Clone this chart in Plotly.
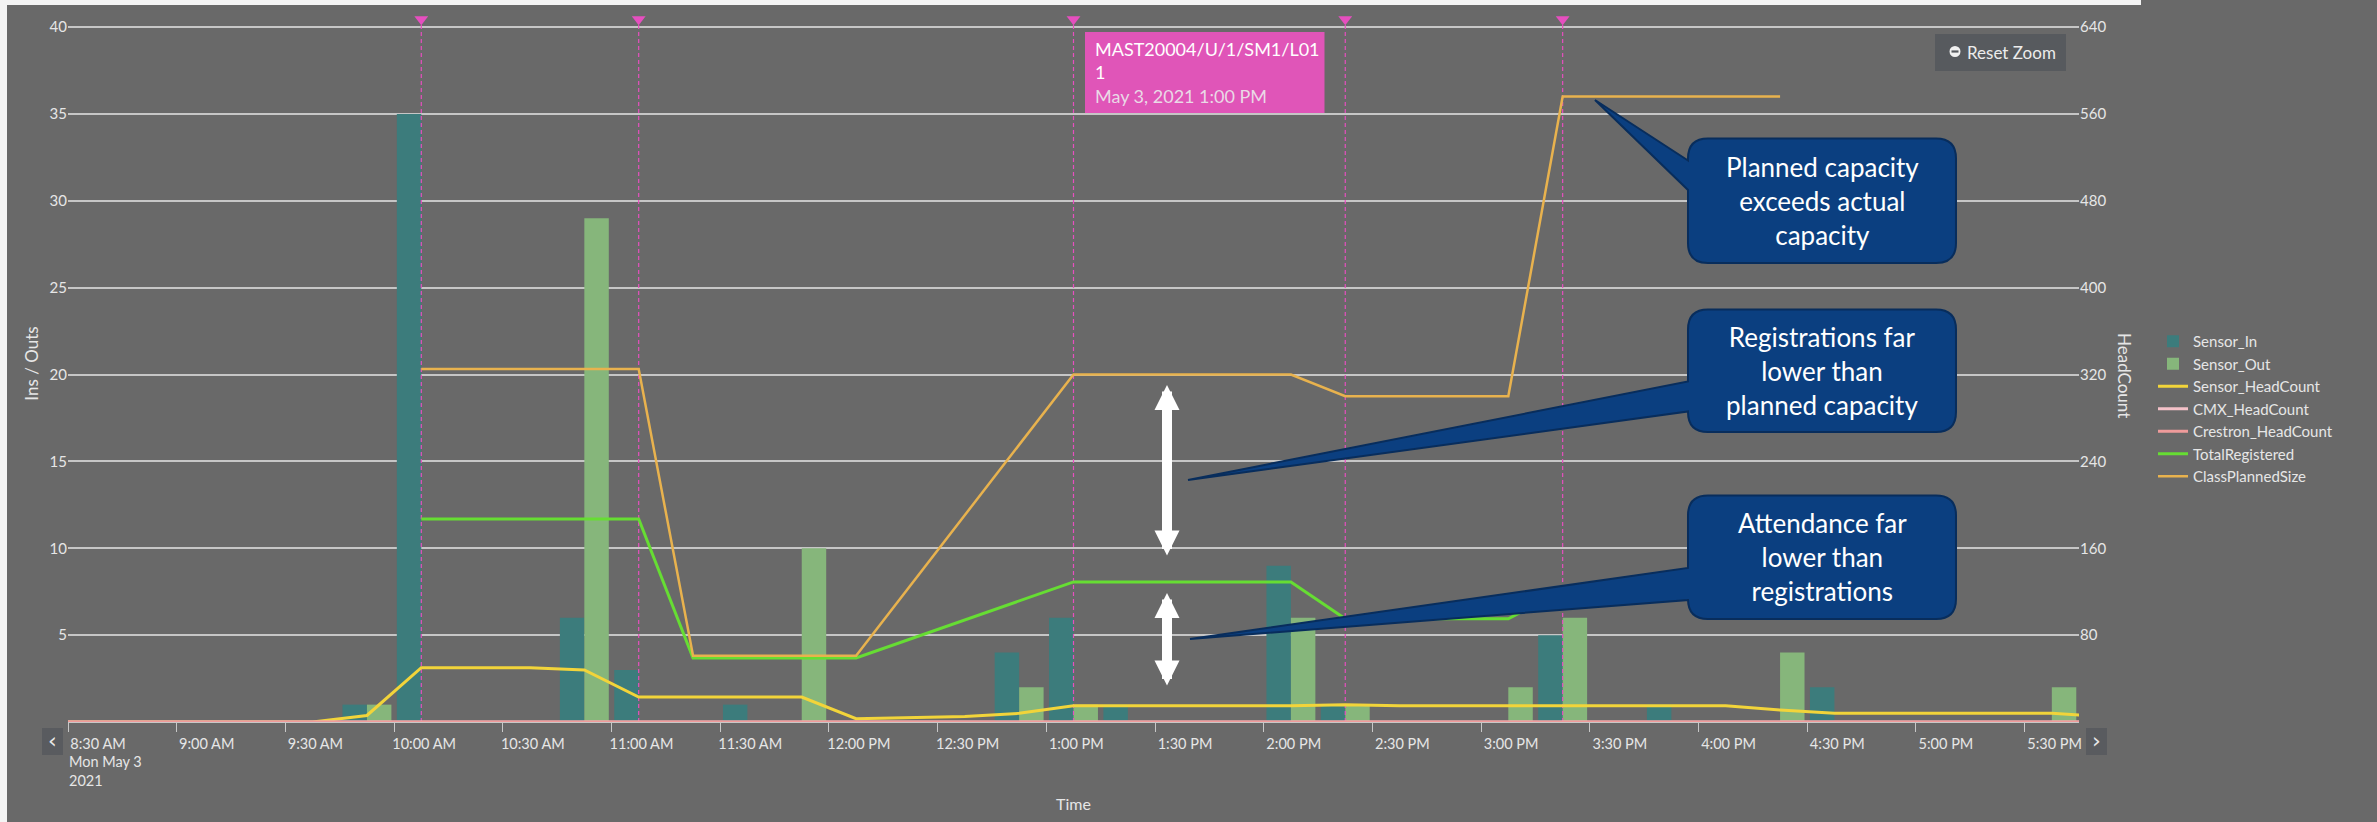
import plotly.graph_objects as go

DAY = "2021-05-03 "

# ---------------- data ----------------
SLOTS = ["08:15", "08:30", "08:45", "09:00", "09:15", "09:30", "09:45",
         "10:00", "10:15", "10:30", "10:45", "11:00", "11:15", "11:30", "11:45",
         "12:00", "12:15", "12:30", "12:45", "13:00", "13:15", "13:30", "13:45",
         "14:00", "14:15", "14:30", "14:45", "15:00", "15:15", "15:30", "15:45",
         "16:00", "16:15", "16:30", "16:45", "17:00", "17:15", "17:30", "17:45"]

SENSOR_IN = [0, 0, 0, 0, 0, 0, 1,
             35, 0, 0, 6, 3, 0, 1, 0,
             0, 0, 0, 4, 6, 1, 0, 0,
             9, 1, 0, 0, 0, 5, 0, 1,
             0, 0, 2, 0, 0, 0, 0, 0]

SENSOR_OUT = [0, 0, 0, 0, 0, 0, 1,
              0, 0, 0, 29, 0, 0, 0, 10,
              0, 0, 0, 2, 1, 0, 0, 0,
              6, 1, 0, 0, 2, 6, 0, 0,
              0, 4, 0, 0, 0, 0, 2, 0]

SENSOR_HEADCOUNT = [0, 0, 0, 0, 0, 0, 6,
                    50, 50, 50, 48, 23, 23, 23, 23,
                    3, 4, 5, 8, 15, 15, 15, 15,
                    15, 16, 15, 15, 15, 15, 15, 15,
                    15, 11, 8, 8, 8, 8, 8, 5]

CMX_HEADCOUNT = [0, 0, 0, 0, 0, 0, 0,
                 0, 0, 0, 0, 0, 0, 0, 0,
                 0, 0, 0, 0, 0, 0, 0, 0,
                 0, 0, 0, 0, 0, 0, 0, 0,
                 0, 0, 0, 0, 0, 0, 0, 0]

CRESTRON_HEADCOUNT = [0, 0, 0, 0, 0, 0, 0,
                      0, 0, 0, 0, 0, 0, 0, 0,
                      0, 0, 0, 0, 0, 0, 0, 0,
                      0, 0, 0, 0, 0, 0, 0, 0,
                      0, 0, 0, 0, 0, 0, 0, 0]

TOTAL_REGISTERED = [None, None, None, None, None, None, None,
                    187, 187, 187, 187, 187, 59, 59, 59,
                    59, None, None, None, 129, 129, 129, 129,
                    129, 95, 95, 95, 95, 121, 121, 121,
                    121, 121, None, None, None, None, None, None]

CLASS_PLANNED_SIZE = [None, None, None, None, None, None, None,
                      325, 325, 325, 325, 325, 61, 61, 61,
                      61, None, None, None, 320, 320, 320, 320,
                      320, 300, 300, 300, 300, 576, 576, 576,
                      576, 576, None, None, None, None, None, None]

FLAG_TIMES = ["10:00", "11:00", "13:00", "14:15", "15:15"]

TICK_TIMES = ["08:30", "09:00", "09:30", "10:00", "10:30", "11:00", "11:30",
              "12:00", "12:30", "13:00", "13:30", "14:00", "14:30", "15:00",
              "15:30", "16:00", "16:30", "17:00", "17:30"]
TICK_TEXT = ["8:30 AM", "9:00 AM", "9:30 AM", "10:00 AM",
             "10:30 AM", "11:00 AM", "11:30 AM", "12:00 PM", "12:30 PM", "1:00 PM",
             "1:30 PM", "2:00 PM", "2:30 PM", "3:00 PM", "3:30 PM", "4:00 PM",
             "4:30 PM", "5:00 PM", "5:30 PM"]
FIRST_TICK_DATE = "Mon May 3<br>2021"

LEFT_TICKS = [5, 10, 15, 20, 25, 30, 35, 40]
RIGHT_TICKS = [80, 160, 240, 320, 400, 480, 560, 640]

TOOLTIP_LINES = ["MAST20004/U/1/SM1/L01", "1", "May 3, 2021 1:00 PM"]
CALLOUT_TEXTS = ["Planned capacity<br>exceeds actual<br>capacity",
                 "Registrations far<br>lower than<br>planned capacity",
                 "Attendance far<br>lower than<br>registrations"]

# ---------------- layout geometry ----------------
W, H = 2377, 822
ML, MR, MT, MB = 68, 298, 5, 100
PW = W - ML - MR
PH = H - MT - MB
UNIT = 695 / 40.0                 # pixels per left-axis unit (40 gridline sits at y=27)
YTOP = PH / UNIT                  # left-axis value at top of plot area
FONT = "Lato, 'Open Sans', sans-serif"
BG = "#696969"
TXT = "#e6e6e6"
PERIOD = 15 * 60 * 1000


def px(x):
    return (x - ML) / PW


def py(y):
    return (H - MB - y) / PH


xs = [DAY + s for s in SLOTS]
flag_x = [DAY + s for s in FLAG_TIMES]

fig = go.Figure()

common = dict(xperiod=PERIOD, xperiodalignment="middle")

fig.add_trace(go.Bar(x=xs, y=SENSOR_IN, name="Sensor_In", marker=dict(color="#3c7c7c", line=dict(width=0)),
                     yaxis="y", **common))
fig.add_trace(go.Bar(x=xs, y=SENSOR_OUT, name="Sensor_Out", marker=dict(color="#86b67b", line=dict(width=0)),
                     yaxis="y", **common))

# flags (dashed verticals + triangles)
fx, fy = [], []
for t in flag_x:
    fx += [t, t, None]
    fy += [0, 40.25, None]
fig.add_trace(go.Scatter(x=fx, y=fy, mode="lines", line=dict(color="#e64fbf", width=1.2, dash="4px,3px"),
                         showlegend=False, hoverinfo="skip", yaxis="y", **common))
fig.add_trace(go.Scatter(x=flag_x, y=[40.45] * len(flag_x), mode="markers",
                         marker=dict(symbol="triangle-down", size=12, color="#e64fbf", line=dict(width=0)),
                         showlegend=False, yaxis="y", **common))

line_specs = [
    ("Sensor_HeadCount", SENSOR_HEADCOUNT, "#f2d43a", 3),
    ("CMX_HeadCount", CMX_HEADCOUNT, "#f4c2c9", 3),
    ("Crestron_HeadCount", CRESTRON_HEADCOUNT, "#ef9b9b", 3),
    ("TotalRegistered", TOTAL_REGISTERED, "#66dd33", 3),
    ("ClassPlannedSize", CLASS_PLANNED_SIZE, "#e8b24e", 2.5),
]
for name, vals, col, wdt in line_specs:
    fig.add_trace(go.Scatter(x=xs, y=vals, name=name, mode="lines", line=dict(color=col, width=wdt),
                             connectgaps=True, yaxis="y2", **common))

shapes = []
annotations = []

# callouts
CALLOUTS = [
    # box L, T, R, B, attach1, attach2, tip x, tip y
    (1688, 138.5, 1956, 263, 160.5, 190, 1595, 100),
    (1688, 309.5, 1956, 432, 381.5, 411.5, 1188, 480),
    (1688, 495.5, 1956, 619, 568, 600, 1190, 639),
]
R = 20


def P(x, y):
    return f"{px(x):.6f},{py(y):.6f}"


for (L, T, Rr, B, a1, a2, tx, ty), txt in zip(CALLOUTS, CALLOUT_TEXTS):
    path = (f"M{P(L + R, T)} L{P(Rr - R, T)} Q{P(Rr, T)} {P(Rr, T + R)} "
            f"L{P(Rr, B - R)} Q{P(Rr, B)} {P(Rr - R, B)} L{P(L + R, B)} "
            f"Q{P(L, B)} {P(L, B - R)} L{P(L, a2)} L{P(tx, ty)} L{P(L, a1)} "
            f"L{P(L, T + R)} Q{P(L, T)} {P(L + R, T)} Z")
    shapes.append(dict(type="path", xref="paper", yref="paper", path=path,
                       fillcolor="#0b3f80", line=dict(color="#082d5c", width=2), layer="above"))
    annotations.append(dict(xref="paper", yref="paper", x=px((L + Rr) / 2), y=py((T + B) / 2),
                            text=txt, showarrow=False, xanchor="center", yanchor="middle",
                            align="center", font=dict(family=FONT, size=26, color="white")))

# white double arrows
for (x0, ytop, ybot) in [(1167, 385, 557), (1167, 593, 687)]:
    annotations.append(dict(xref="paper", yref="paper", x=px(x0), y=py(ytop), ax=0, ay=ybot - ytop,
                            axref="pixel", ayref="pixel", text="", showarrow=True,
                            arrowside="end+start", arrowhead=2, startarrowhead=2,
                            arrowsize=0.5, startarrowsize=0.5, arrowwidth=10,
                            arrowcolor="white", standoff=0, startstandoff=0))

# tooltip
shapes.append(dict(type="rect", xref="paper", yref="paper", x0=px(1085), x1=px(1324.5),
                   y0=py(113), y1=py(32), fillcolor="#e055b8", line=dict(width=0), layer="above"))
annotations.append(dict(xref="paper", yref="paper", x=px(1093), y=py(72.5), xanchor="left",
                        yanchor="middle", align="left", showarrow=False,
                        text=(f"{TOOLTIP_LINES[0]}<br>{TOOLTIP_LINES[1]}<br>"
                              f"<span style='color:#ead9e6'>{TOOLTIP_LINES[2]}</span>"),
                        font=dict(family=FONT, size=18, color="white")))

# reset zoom button
shapes.append(dict(type="rect", xref="paper", yref="paper", x0=px(1935), x1=px(2066),
                   y0=py(71), y1=py(34), fillcolor="#575a5e", line=dict(width=0), layer="above"))
shapes.append(dict(type="circle", xref="paper", yref="paper", x0=px(1949.5), x1=px(1960.5),
                   y0=py(57), y1=py(46), fillcolor="#f0f0f0", line=dict(width=0), layer="above"))
shapes.append(dict(type="rect", xref="paper", yref="paper", x0=px(1951.5), x1=px(1958.5),
                   y0=py(52.6), y1=py(50.4), fillcolor="#575a5e", line=dict(width=0), layer="above"))
annotations.append(dict(xref="paper", yref="paper", x=px(1965), y=py(52), xanchor="left",
                        yanchor="middle", text="Reset Zoom", showarrow=False,
                        font=dict(family=FONT, size=17, color="#ececec")))

# navigation buttons
for (x0, x1, ch) in [(42, 63, "‹"), (2086, 2107, "›")]:
    shapes.append(dict(type="rect", xref="paper", yref="paper", x0=px(x0), x1=px(x1),
                       y0=py(755), y1=py(728), fillcolor="#595b5f", line=dict(width=0), layer="above"))
    annotations.append(dict(xref="paper", yref="paper", x=px((x0 + x1) / 2), y=py(740),
                            xanchor="center", yanchor="middle", text=ch, showarrow=False,
                            font=dict(family="DejaVu Sans", size=22, color="#e8e8e8")))

# date under the first tick label (left aligned like the original)
annotations.append(dict(xref="x", yref="paper", x=DAY + TICK_TIMES[0], y=py(751), xanchor="left",
                        yanchor="top", align="left", text=FIRST_TICK_DATE, showarrow=False,
                        xshift=-1, font=dict(family=FONT, size=14.5, color=TXT)))

# right axis title (top-to-bottom)
annotations.append(dict(xref="paper", yref="paper", x=px(2125), y=py(375), xanchor="center",
                        yanchor="middle", text="HeadCount", textangle=90, showarrow=False,
                        font=dict(family=FONT, size=17, color=TXT)))

# screenshot edge strips
shapes.append(dict(type="rect", xref="paper", yref="paper", x0=px(0), x1=px(7), y0=py(H), y1=py(0),
                   fillcolor="#f4f4f4", line=dict(width=0), layer="above"))
shapes.append(dict(type="rect", xref="paper", yref="paper", x0=px(0), x1=px(2141), y0=py(5), y1=py(0),
                   fillcolor="#f4f4f4", line=dict(width=0), layer="above"))

fig.update_layout(
    width=W, height=H,
    margin=dict(l=ML, r=MR, t=MT, b=MB, autoexpand=False),
    paper_bgcolor=BG, plot_bgcolor=BG,
    font=dict(family=FONT, size=14, color=TXT),
    barmode="group", bargap=0.1, bargroupgap=0,
    showlegend=True,
    legend=dict(x=px(2153), y=py(409), xanchor="left", yanchor="middle",
                font=dict(family=FONT, size=15, color=TXT), bgcolor="rgba(0,0,0,0)",
                tracegroupgap=0, itemwidth=30),
    xaxis=dict(type="date", range=[DAY + "08:30", DAY + "17:45"],
               tickvals=[DAY + t for t in TICK_TIMES], ticktext=TICK_TEXT,
               ticks="outside", ticklen=9, tickwidth=1, tickcolor="#c8c8c8",
               ticklabelshift=30, tickfont=dict(family=FONT, size=14.5, color=TXT),
               showgrid=False, showline=True, linecolor="#c8c8c8", linewidth=1,
               zeroline=False,
               title=dict(text="Time", font=dict(family=FONT, size=16, color=TXT), standoff=47)),
    yaxis=dict(range=[0, YTOP], tickvals=LEFT_TICKS, showgrid=True, gridcolor="#c6c6c6", gridwidth=2,
               zeroline=False, ticks="", tickfont=dict(family=FONT, size=15, color=TXT),
               title=dict(text="Ins / Outs", font=dict(family=FONT, size=17, color=TXT), standoff=6)),
    yaxis2=dict(range=[0, YTOP * 16], tickvals=RIGHT_TICKS, overlaying="y", side="right", showgrid=False,
                zeroline=False, ticks="", tickfont=dict(family=FONT, size=15, color=TXT)),
    shapes=shapes,
    annotations=annotations,
    hovermode=False,
)

fig.write_html("out.html",
               post_script="document.body.style.margin='0';document.body.style.overflow='hidden';")
